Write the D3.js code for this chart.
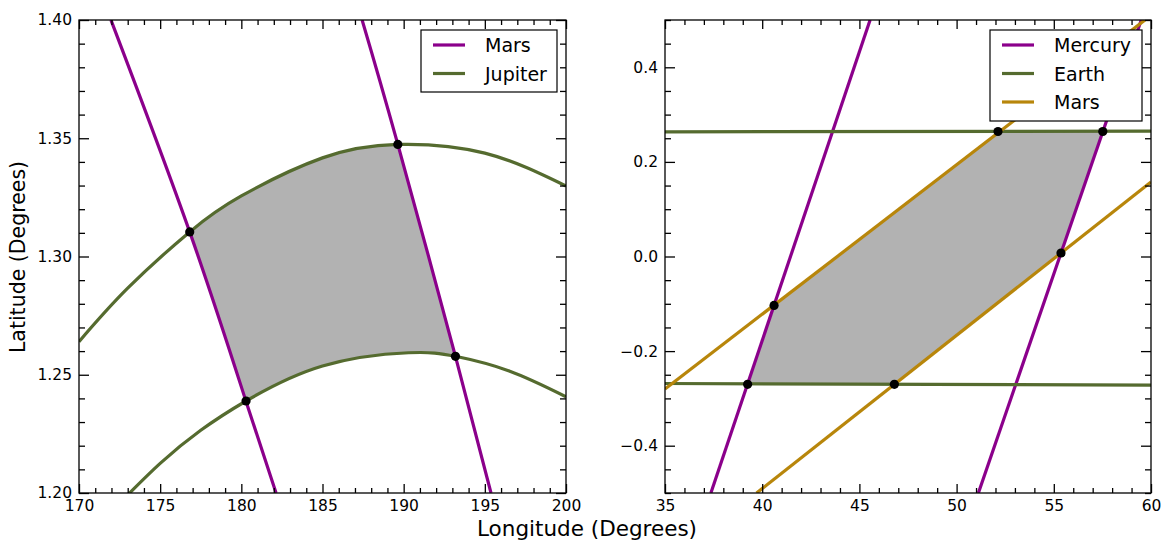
<!DOCTYPE html>
<html>
<head>
<meta charset="utf-8">
<script src="https://cdn.jsdelivr.net/npm/d3@7"></script>
<style>
  html, body { margin: 0; padding: 0; background: #fff; }
  svg { display: block; font-family: "DejaVu Sans", sans-serif; }
</style>
</head>
<body>
<svg id="chart" width="1163" height="541"></svg>
<script>
// ---------------- DATA ----------------
// Left panel (Mars / Jupiter), [longitude, latitude]
const leftXTicks = [170, 175, 180, 185, 190, 195, 200];
const leftYTicks = [1.20, 1.25, 1.30, 1.35, 1.40];
const marsLeftA = [[171.97, 1.40], [176.82, 1.3104], [180.29, 1.2387], [182.14, 1.20]];
const marsLeftB = [[187.44, 1.40], [189.64, 1.3474], [193.19, 1.2578], [195.38, 1.20]];
const jupiterUpper = [[170, 1.2640], [173, 1.2866], [176.82, 1.3104], [180, 1.3256], [185, 1.3417],
                      [189.64, 1.3474], [195, 1.3437], [200, 1.3298]];
const jupiterLower = [[172, 1.1923], [175, 1.2125], [177.5, 1.2265], [180.29, 1.2389],
                      [185, 1.2537], [190.3, 1.2593], [193.19, 1.2578], [196.5, 1.2516], [200, 1.2407]];
const leftCorners = [[176.82, 1.3104], [189.64, 1.3474], [193.19, 1.2578], [180.29, 1.2389]];

// Right panel (Mercury / Earth / Mars)
const rightXTicks = [35, 40, 45, 50, 55, 60];
const rightYTicks = [-0.4, -0.2, 0.0, 0.2, 0.4];
const mercuryA = [[37.36, -0.5], [45.55, 0.5]];
const mercuryB = [[51.12, -0.5], [59.50, 0.5]];
const earthUpper = [[35, 0.2635], [60, 0.2650]];
const earthLower = [[35, -0.2685], [60, -0.2720]];
const marsRightA = [[35, -0.280], [59.69, 0.5]];
const marsRightB = [[39.71, -0.5], [60, 0.1574]];
const rightCorners = [[39.25, -0.2702], [40.61, -0.1035], [52.13, 0.2643],
                      [57.52, 0.2643], [55.37, 0.0074], [46.80, -0.2702]];

// ---------------- STYLE ----------------
const PURPLE = "#8b008b", GREEN = "#556b2f", GOLD = "#b8860b", FILL = "#b2b2b2";
const LW = 3.2;

const svg = d3.select("#chart");
const Y_TOP = 20, Y_BOT = 493;

function panel(opts) {
  const { x0, x1, xDomain, yDomain, xTicks, yTicks, xMinor, yMinor, xFmt, yFmt, id } = opts;
  const x = d3.scaleLinear().domain(xDomain).range([x0, x1]);
  const y = d3.scaleLinear().domain(yDomain).range([Y_BOT, Y_TOP]);
  const g = svg.append("g");
  g.append("clipPath").attr("id", id).append("rect")
    .attr("x", x0).attr("y", Y_TOP).attr("width", x1 - x0).attr("height", Y_BOT - Y_TOP);
  const fillG = g.append("g").attr("clip-path", `url(#${id})`);
  const lineG = g.append("g").attr("clip-path", `url(#${id})`);
  const axG = g.append("g");
  const dotG = g.append("g");

  const tickStyle = sel => {
    sel.selectAll(".domain").remove();
    sel.selectAll("line").attr("stroke", "#000").attr("stroke-width", 1.3);
    sel.selectAll("text").attr("font-family", "DejaVu Sans").attr("font-size", 15.5).attr("fill", "#000");
  };
  axG.append("g").attr("transform", `translate(0,${Y_BOT})`)
    .call(d3.axisBottom(x).tickValues(xTicks).tickFormat(xFmt).tickSize(-9).tickPadding(7)).call(tickStyle);
  axG.append("g").attr("transform", `translate(${x0},0)`)
    .call(d3.axisLeft(y).tickValues(yTicks).tickFormat(yFmt).tickSize(-10).tickPadding(7)).call(tickStyle);
  axG.append("g").attr("transform", `translate(0,${Y_TOP})`)
    .call(d3.axisTop(x).tickValues(xTicks).tickFormat("").tickSize(-9)).call(tickStyle);
  axG.append("g").attr("transform", `translate(${x1},0)`)
    .call(d3.axisRight(y).tickValues(yTicks).tickFormat("").tickSize(-10)).call(tickStyle);
  axG.append("g").attr("transform", `translate(0,${Y_BOT})`)
    .call(d3.axisBottom(x).tickValues(xMinor).tickFormat("").tickSize(-5)).call(tickStyle);
  axG.append("g").attr("transform", `translate(0,${Y_TOP})`)
    .call(d3.axisTop(x).tickValues(xMinor).tickFormat("").tickSize(-5)).call(tickStyle);
  axG.append("g").attr("transform", `translate(${x0},0)`)
    .call(d3.axisLeft(y).tickValues(yMinor).tickFormat("").tickSize(-6)).call(tickStyle);
  axG.append("g").attr("transform", `translate(${x1},0)`)
    .call(d3.axisRight(y).tickValues(yMinor).tickFormat("").tickSize(-6)).call(tickStyle);
  axG.append("rect").attr("x", x0).attr("y", Y_TOP).attr("width", x1 - x0).attr("height", Y_BOT - Y_TOP)
    .attr("fill", "none").attr("stroke", "#000").attr("stroke-width", 1.3);

  return { x, y, fillG, lineG, dotG, g };
}

function legend(g, x0, y0, w, h, items) {
  const lg = g.append("g");
  lg.append("rect").attr("x", x0).attr("y", y0).attr("width", w).attr("height", h)
    .attr("fill", "#fff").attr("stroke", "#000").attr("stroke-width", 1.2);
  items.forEach((it, i) => {
    const cy = y0 + 15 + i * 28.5;
    lg.append("line").attr("x1", x0 + 12).attr("x2", x0 + 44).attr("y1", cy).attr("y2", cy)
      .attr("stroke", it.color).attr("stroke-width", LW);
    lg.append("text").attr("x", x0 + 64).attr("y", cy + 7).attr("font-size", 19)
      .attr("font-family", "DejaVu Sans").text(it.name);
  });
}

const minorRange = (a, b, s) => d3.range(Math.round((b - a) / s) + 1).map(i => +(a + i * s).toFixed(4));

// ---------------- LEFT PANEL ----------------
const L = panel({
  id: "clipL", x0: 79, x1: 566, xDomain: [170, 200], yDomain: [1.20, 1.40],
  xTicks: leftXTicks, yTicks: leftYTicks,
  xMinor: minorRange(170, 200, 1).filter(v => !leftXTicks.includes(v)),
  yMinor: minorRange(1.20, 1.40, 0.01).filter(v => !leftYTicks.some(t => Math.abs(t - v) < 1e-6)),
  xFmt: d3.format("d"), yFmt: d3.format(".2f")
});
const lineL = d3.line().x(d => L.x(d[0])).y(d => L.y(d[1])).curve(d3.curveNatural);
[marsLeftA, marsLeftB].forEach(s => L.lineG.append("path").attr("d", lineL(s))
  .attr("fill", "none").attr("stroke", PURPLE).attr("stroke-width", LW));
const upP = L.lineG.append("path").attr("d", lineL(jupiterUpper))
  .attr("fill", "none").attr("stroke", GREEN).attr("stroke-width", LW);
const loP = L.lineG.append("path").attr("d", lineL(jupiterLower))
  .attr("fill", "none").attr("stroke", GREEN).attr("stroke-width", LW);

function samples(node, n) {
  const len = node.getTotalLength();
  return d3.range(n + 1).map(i => { const p = node.getPointAtLength(len * i / n); return [p.x, p.y]; });
}
{
  const [A, B, C, D] = leftCorners.map(p => [L.x(p[0]), L.y(p[1])]);
  const up = samples(upP.node(), 600).filter(p => p[0] > A[0] && p[0] < B[0]);
  const lo = samples(loP.node(), 600).filter(p => p[0] > D[0] && p[0] < C[0]).reverse();
  const poly = [A, ...up, B, C, ...lo, D];
  L.fillG.append("path").attr("d", "M" + poly.map(p => p.join(",")).join("L") + "Z")
    .attr("fill", FILL).attr("stroke", "none");
  L.dotG.selectAll("circle").data(leftCorners).join("circle")
    .attr("cx", d => L.x(d[0])).attr("cy", d => L.y(d[1])).attr("r", 4.6).attr("fill", "#000");
}
legend(L.g, 421, 30, 136, 62, [{ name: "Mars", color: PURPLE }, { name: "Jupiter", color: GREEN }]);

// ---------------- RIGHT PANEL ----------------
const R = panel({
  id: "clipR", x0: 665, x1: 1151, xDomain: [35, 60], yDomain: [-0.5, 0.5],
  xTicks: rightXTicks, yTicks: rightYTicks,
  xMinor: minorRange(35, 60, 1).filter(v => !rightXTicks.includes(v)),
  yMinor: minorRange(-0.5, 0.5, 0.05).filter(v => !rightYTicks.some(t => Math.abs(t - v) < 1e-6)),
  xFmt: d3.format("d"), yFmt: d3.format(".1f")
});
const lineR = d3.line().x(d => R.x(d[0])).y(d => R.y(d[1]));
R.fillG.append("path").attr("d", lineR(rightCorners) + "Z").attr("fill", FILL);
[[mercuryA, PURPLE], [mercuryB, PURPLE], [earthUpper, GREEN], [earthLower, GREEN],
 [marsRightA, GOLD], [marsRightB, GOLD]].forEach(([s, c]) =>
  R.lineG.append("path").attr("d", lineR(s)).attr("fill", "none").attr("stroke", c).attr("stroke-width", LW));
R.dotG.selectAll("circle").data(rightCorners).join("circle")
  .attr("cx", d => R.x(d[0])).attr("cy", d => R.y(d[1])).attr("r", 4.6).attr("fill", "#000");
legend(R.g, 990, 30, 152, 91, [{ name: "Mercury", color: PURPLE }, { name: "Earth", color: GREEN }, { name: "Mars", color: GOLD }]);

// ---------------- AXIS LABELS ----------------
svg.append("text").attr("x", 587).attr("y", 536).attr("text-anchor", "middle")
  .attr("font-size", 21.5).text("Longitude (Degrees)");
svg.append("text").attr("transform", "translate(25,257) rotate(-90)").attr("text-anchor", "middle")
  .attr("font-size", 20.5).text("Latitude (Degrees)");
</script>
</body>
</html>
